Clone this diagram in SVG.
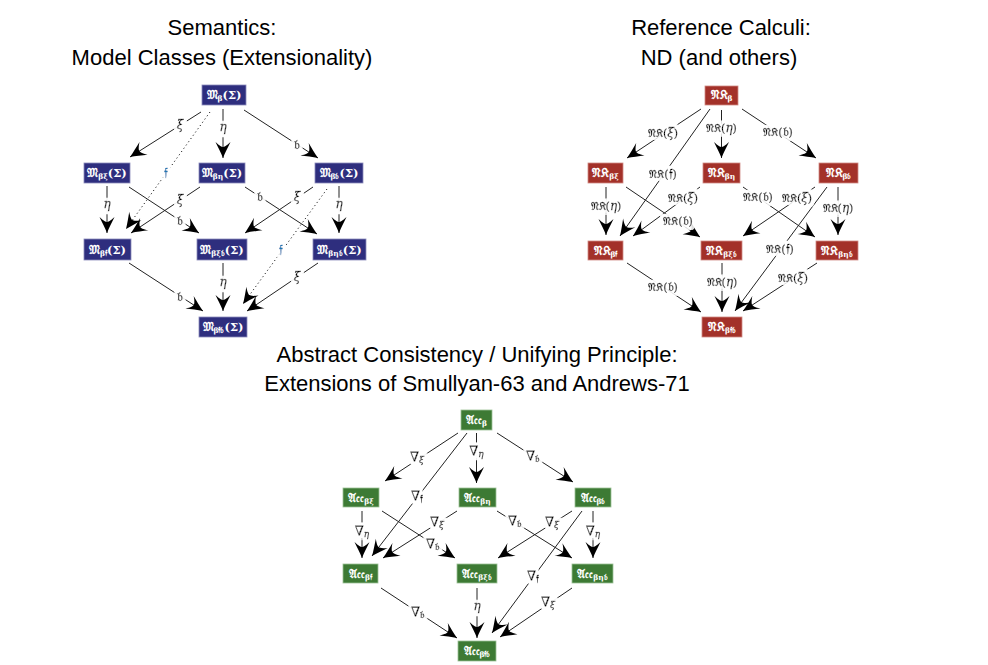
<svg xmlns="http://www.w3.org/2000/svg" width="988" height="665" viewBox="0 0 988 665">
<defs>
<style>
.title{font-family:"Liberation Sans",Arial,sans-serif;font-size:22px;fill:#000;text-anchor:middle}
.nb{fill:#2e2e7e;stroke:#8c8cbc;stroke-width:0.8}
.nr{fill:#a33129;stroke:#d08a84;stroke-width:0.8}
.ng{fill:#3d7a34;stroke:#9cc096;stroke-width:0.8}
.nt{font-family:"DejaVu Serif","Noto Sans",serif;font-size:11.5px;font-weight:bold;fill:#fff;text-anchor:middle}
.nt .sub{font-size:7.5px}
.e{stroke:#222;stroke-width:1;fill:none;marker-end:url(#ah)}
.d{stroke-dasharray:1.2,2.8}
.lb{font-family:"DejaVu Serif","Noto Sans",serif;font-size:11px;fill:#000;stroke:#000;stroke-width:0.35px;text-anchor:middle;filter:url(#halo)}
.gk{font-style:italic;font-size:12px}
.fk{font-size:13px}
.nab{font-size:13px}
.lb .s{font-size:10px}
.lb .si{font-size:9px;font-style:italic}
.tl{fill:#1f7ab5;stroke:#1f7ab5}
</style>
<filter id="halo" x="-60%" y="-60%" width="220%" height="220%">
<feMorphology in="SourceAlpha" operator="dilate" radius="3" result="d"/>
<feFlood flood-color="#fff"/>
<feComposite in2="d" operator="in" result="w"/>
<feMerge><feMergeNode in="w"/><feMergeNode in="SourceGraphic"/></feMerge>
</filter>
<marker id="ah" viewBox="-17 -8 18 16" refX="0" refY="0" markerWidth="18" markerHeight="16" markerUnits="userSpaceOnUse" orient="auto">
<path d="M0,0 C-5,-2 -11,-5 -16,-7.5 C-12,-3.5 -11,-1 -11,0 C-11,1 -12,3.5 -16,7.5 C-11,5 -5,2 0,0 Z" fill="#000"/>
</marker>
</defs>
<rect width="988" height="665" fill="#fff"/>

<g id="titles">
<text class="title" x="222" y="35">Semantics:</text>
<text class="title" x="222" y="65">Model Classes (Extensionality)</text>
<text class="title" x="721" y="35">Reference Calculi:</text>
<text class="title" x="719" y="65">ND (and others)</text>
<text class="title" x="477" y="362">Abstract Consistency / Unifying Principle:</text>
<text class="title" x="477" y="391">Extensions of Smullyan-63 and Andrews-71</text>
</g>

<g id="connectors">
<!-- left -->
<line class="e" x1="201" y1="112" x2="130" y2="157"/>
<line class="e" x1="223" y1="109" x2="223" y2="158"/>
<line class="e" x1="244" y1="110" x2="318" y2="158"/>
<line class="e d" x1="210" y1="112" x2="126" y2="229"/>
<line class="e" x1="107" y1="186" x2="107" y2="233"/>
<line class="e" x1="129" y1="187" x2="199" y2="233"/>
<line class="e" x1="200" y1="187" x2="131" y2="233"/>
<line class="e" x1="245" y1="187" x2="317" y2="234"/>
<line class="e" x1="313" y1="187" x2="245" y2="233"/>
<line class="e" x1="339" y1="186" x2="339" y2="233"/>
<line class="e d" x1="327" y1="189" x2="243" y2="304"/>
<line class="e" x1="129" y1="263" x2="203" y2="311"/>
<line class="e" x1="223" y1="263" x2="223" y2="311"/>
<line class="e" x1="318" y1="263" x2="247" y2="311"/>
<!-- right -->
<line class="e" x1="701" y1="109" x2="627" y2="158"/>
<line class="e" x1="721.5" y1="110" x2="721.5" y2="158"/>
<line class="e" x1="742" y1="109" x2="816" y2="158"/>
<line class="e" x1="710" y1="109" x2="620" y2="236"/>
<line class="e" x1="606" y1="187" x2="606" y2="235"/>
<line class="e" x1="626" y1="187" x2="700" y2="237"/>
<line class="e" x1="700" y1="187" x2="633" y2="236"/>
<line class="e" x1="743" y1="187" x2="815" y2="237"/>
<line class="e" x1="815" y1="187" x2="743" y2="236"/>
<line class="e" x1="838" y1="187" x2="838" y2="235"/>
<line class="e" x1="827" y1="187" x2="735" y2="311"/>
<line class="e" x1="627" y1="263" x2="701" y2="312"/>
<line class="e" x1="722" y1="263" x2="722" y2="312"/>
<line class="e" x1="817" y1="263" x2="743" y2="311"/>
<!-- bottom -->
<line class="e" x1="458" y1="433" x2="385" y2="481"/>
<line class="e" x1="476.5" y1="433" x2="476.5" y2="483"/>
<line class="e" x1="497" y1="433" x2="573" y2="482"/>
<line class="e" x1="467" y1="433" x2="372" y2="556"/>
<line class="e" x1="362" y1="511" x2="362" y2="558"/>
<line class="e" x1="382" y1="511" x2="455" y2="558"/>
<line class="e" x1="457" y1="511" x2="383" y2="558"/>
<line class="e" x1="497" y1="511" x2="572" y2="558"/>
<line class="e" x1="572" y1="511" x2="498" y2="558"/>
<line class="e" x1="593" y1="511" x2="593" y2="558"/>
<line class="e" x1="582" y1="511" x2="492" y2="633"/>
<line class="e" x1="381" y1="588" x2="457" y2="638"/>
<line class="e" x1="477" y1="588" x2="477" y2="638"/>
<line class="e" x1="572" y1="588" x2="500" y2="637"/>

<!-- labels left -->
<text class="lb gk" x="180" y="129">ξ</text>
<text class="lb gk" x="223" y="131">η</text>
<text class="lb fk" x="297" y="149">𝔟</text>
<text class="lb fk tl" x="166" y="177">𝔣</text>
<text class="lb gk" x="107" y="208">η</text>
<text class="lb fk" x="180" y="225">𝔟</text>
<text class="lb gk" x="180" y="204">ξ</text>
<text class="lb fk" x="260" y="201">𝔟</text>
<text class="lb gk" x="297" y="201">ξ</text>
<text class="lb gk" x="339" y="208">η</text>
<text class="lb fk tl" x="281" y="254">𝔣</text>
<text class="lb fk" x="180" y="301">𝔟</text>
<text class="lb gk" x="223" y="286">η</text>
<text class="lb gk" x="297" y="281">ξ</text>
<!-- labels right -->
<text class="lb" x="663" y="137">𝔑𝔎(<tspan class="gk">ξ</tspan>)</text>
<text class="lb" x="721.5" y="132">𝔑𝔎(<tspan class="gk">η</tspan>)</text>
<text class="lb" x="778" y="136">𝔑𝔎(<tspan class="fk">𝔟</tspan>)</text>
<text class="lb" x="663" y="178">𝔑𝔎(<tspan class="fk">𝔣</tspan>)</text>
<text class="lb" x="606" y="210">𝔑𝔎(<tspan class="gk">η</tspan>)</text>
<text class="lb" x="678" y="225">𝔑𝔎(<tspan class="fk">𝔟</tspan>)</text>
<text class="lb" x="683" y="202">𝔑𝔎(<tspan class="gk">ξ</tspan>)</text>
<text class="lb" x="758" y="201">𝔑𝔎(<tspan class="fk">𝔟</tspan>)</text>
<text class="lb" x="797" y="202">𝔑𝔎(<tspan class="gk">ξ</tspan>)</text>
<text class="lb" x="838" y="212">𝔑𝔎(<tspan class="gk">η</tspan>)</text>
<text class="lb" x="780" y="253">𝔑𝔎(<tspan class="fk">𝔣</tspan>)</text>
<text class="lb" x="663" y="291">𝔑𝔎(<tspan class="fk">𝔟</tspan>)</text>
<text class="lb" x="722" y="286">𝔑𝔎(<tspan class="gk">η</tspan>)</text>
<text class="lb" x="793" y="282">𝔑𝔎(<tspan class="gk">ξ</tspan>)</text>
<!-- labels bottom -->
<text class="lb nab" x="417" y="461">∇<tspan class="si" dy="2">ξ</tspan></text>
<text class="lb nab" x="476.5" y="455">∇<tspan class="si" dy="2">η</tspan></text>
<text class="lb nab" x="533" y="460">∇<tspan class="s" dy="2">𝔟</tspan></text>
<text class="lb nab" x="417" y="500">∇<tspan class="s" dy="2">𝔣</tspan></text>
<text class="lb nab" x="362" y="535">∇<tspan class="si" dy="2">η</tspan></text>
<text class="lb nab" x="433" y="548">∇<tspan class="s" dy="2">𝔟</tspan></text>
<text class="lb nab" x="437" y="526">∇<tspan class="si" dy="2">ξ</tspan></text>
<text class="lb nab" x="515" y="525">∇<tspan class="s" dy="2">𝔟</tspan></text>
<text class="lb nab" x="552" y="526">∇<tspan class="si" dy="2">ξ</tspan></text>
<text class="lb nab" x="593" y="535">∇<tspan class="si" dy="2">η</tspan></text>
<text class="lb nab" x="533" y="580">∇<tspan class="s" dy="2">𝔣</tspan></text>
<text class="lb nab" x="418" y="616">∇<tspan class="s" dy="2">𝔟</tspan></text>
<text class="lb gk" x="477" y="610">η</text>
<text class="lb nab" x="548" y="606">∇<tspan class="si" dy="2">ξ</tspan></text>
</g>

<!-- left nodes -->
<g id="L0"><rect class="nb" x="202" y="85" width="44" height="20"/><text class="nt" x="224" y="99">𝔐<tspan class="sub" dy="2">β</tspan><tspan dy="-2">(Σ)</tspan></text></g>
<g id="L1"><rect class="nb" x="84" y="163" width="46" height="20"/><text class="nt" x="107" y="177">𝔐<tspan class="sub" dy="2">βξ</tspan><tspan dy="-2">(Σ)</tspan></text></g>
<g id="L2"><rect class="nb" x="199" y="163" width="46" height="20"/><text class="nt" x="222" y="177">𝔐<tspan class="sub" dy="2">βη</tspan><tspan dy="-2">(Σ)</tspan></text></g>
<g id="L3"><rect class="nb" x="315" y="163" width="48" height="20"/><text class="nt" x="339" y="177">𝔐<tspan class="sub" dy="2">β𝔟</tspan><tspan dy="-2">(Σ)</tspan></text></g>
<g id="L4"><rect class="nb" x="84" y="239" width="47" height="21"/><text class="nt" x="107.5" y="253.5">𝔐<tspan class="sub" dy="2">β𝔣</tspan><tspan dy="-2">(Σ)</tspan></text></g>
<g id="L5"><rect class="nb" x="197" y="239" width="50" height="21"/><text class="nt" x="222" y="253.5">𝔐<tspan class="sub" dy="2">βξ𝔟</tspan><tspan dy="-2">(Σ)</tspan></text></g>
<g id="L6"><rect class="nb" x="313" y="239" width="53" height="21"/><text class="nt" x="339.5" y="253.5">𝔐<tspan class="sub" dy="2">βη𝔟</tspan><tspan dy="-2">(Σ)</tspan></text></g>
<g id="L7"><rect class="nb" x="199" y="317" width="48" height="20"/><text class="nt" x="223" y="331">𝔐<tspan class="sub" dy="2">β𝔣𝔟</tspan><tspan dy="-2">(Σ)</tspan></text></g>

<!-- right nodes -->
<g id="R0"><rect class="nr" x="705" y="86" width="33" height="19"/><text class="nt" x="721.5" y="99">𝔑𝔎<tspan class="sub" dy="2">β</tspan></text></g>
<g id="R1"><rect class="nr" x="588" y="163" width="35" height="20"/><text class="nt" x="605.5" y="177">𝔑𝔎<tspan class="sub" dy="2">βξ</tspan></text></g>
<g id="R2"><rect class="nr" x="703" y="163" width="37" height="20"/><text class="nt" x="721.5" y="177">𝔑𝔎<tspan class="sub" dy="2">βη</tspan></text></g>
<g id="R3"><rect class="nr" x="819" y="163" width="39" height="20"/><text class="nt" x="838.5" y="177">𝔑𝔎<tspan class="sub" dy="2">β𝔟</tspan></text></g>
<g id="R4"><rect class="nr" x="588" y="241" width="35" height="19"/><text class="nt" x="605.5" y="254.5">𝔑𝔎<tspan class="sub" dy="2">β𝔣</tspan></text></g>
<g id="R5"><rect class="nr" x="701" y="241" width="41" height="19"/><text class="nt" x="721.5" y="254.5">𝔑𝔎<tspan class="sub" dy="2">βξ𝔟</tspan></text></g>
<g id="R6"><rect class="nr" x="816" y="241" width="42" height="19"/><text class="nt" x="837" y="254.5">𝔑𝔎<tspan class="sub" dy="2">βη𝔟</tspan></text></g>
<g id="R7"><rect class="nr" x="702" y="317" width="40" height="20"/><text class="nt" x="722" y="331">𝔑𝔎<tspan class="sub" dy="2">β𝔣𝔟</tspan></text></g>

<!-- bottom nodes -->
<g id="B0"><rect class="ng" x="461" y="410" width="31" height="20"/><text class="nt" x="476.5" y="424">𝔄𝔠𝔠<tspan class="sub" dy="2">β</tspan></text></g>
<g id="B1"><rect class="ng" x="343" y="488" width="36" height="19"/><text class="nt" x="361" y="501.5">𝔄𝔠𝔠<tspan class="sub" dy="2">βξ</tspan></text></g>
<g id="B2"><rect class="ng" x="459" y="488" width="37" height="19"/><text class="nt" x="477.5" y="501.5">𝔄𝔠𝔠<tspan class="sub" dy="2">βη</tspan></text></g>
<g id="B3"><rect class="ng" x="575" y="488" width="36" height="19"/><text class="nt" x="593" y="501.5">𝔄𝔠𝔠<tspan class="sub" dy="2">β𝔟</tspan></text></g>
<g id="B4"><rect class="ng" x="343" y="564" width="35" height="19"/><text class="nt" x="360.5" y="577.5">𝔄𝔠𝔠<tspan class="sub" dy="2">β𝔣</tspan></text></g>
<g id="B5"><rect class="ng" x="457" y="564" width="40" height="19"/><text class="nt" x="477" y="577.5">𝔄𝔠𝔠<tspan class="sub" dy="2">βξ𝔟</tspan></text></g>
<g id="B6"><rect class="ng" x="572" y="564" width="41" height="19"/><text class="nt" x="592.5" y="577.5">𝔄𝔠𝔠<tspan class="sub" dy="2">βη𝔟</tspan></text></g>
<g id="B7"><rect class="ng" x="458" y="641" width="38" height="20"/><text class="nt" x="477" y="655">𝔄𝔠𝔠<tspan class="sub" dy="2">β𝔣𝔟</tspan></text></g>
</svg>
